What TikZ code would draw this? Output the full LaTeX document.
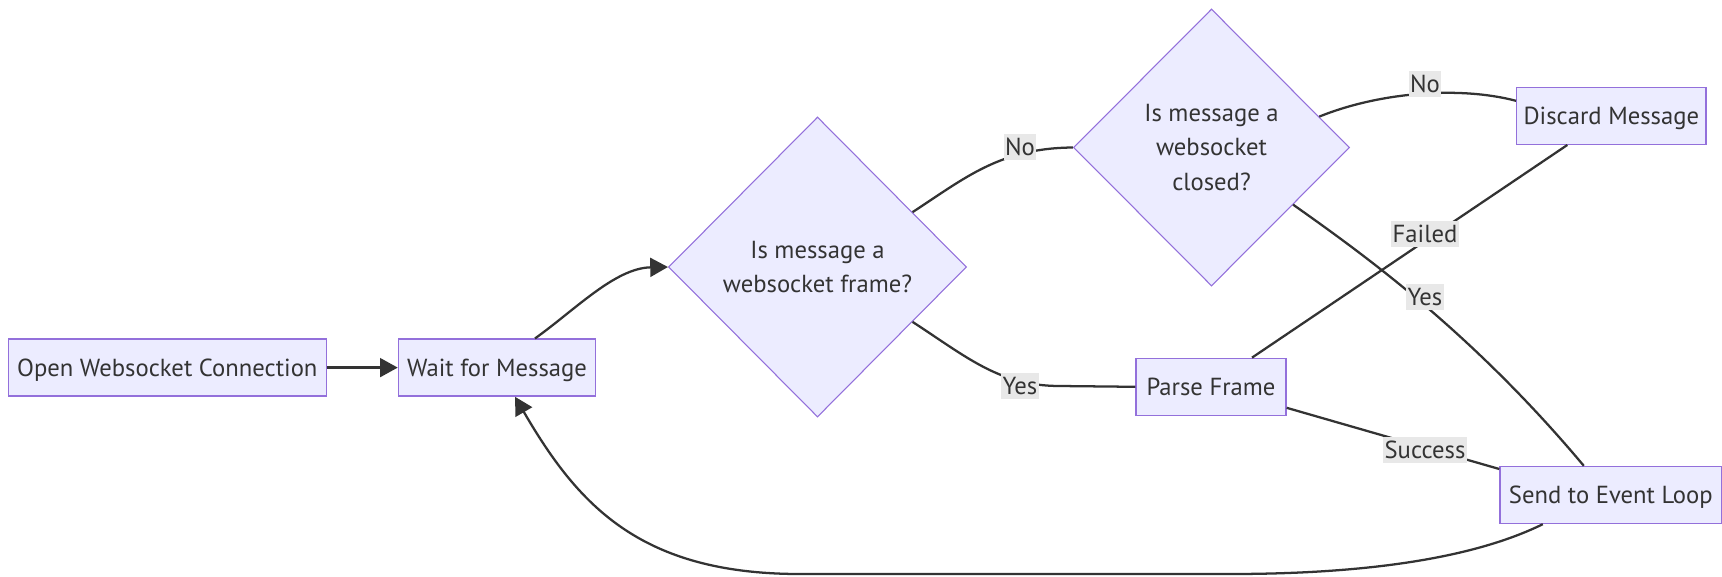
\documentclass[tikz,border=0pt]{standalone}
\usepackage{fontspec}
\setmainfont{PT Sans}
\usetikzlibrary{shapes.geometric,arrows.meta}
\definecolor{nodefill}{HTML}{ECECFF}
\definecolor{nodeline}{HTML}{9370DB}
\definecolor{ink}{HTML}{333333}
\definecolor{lblbg}{HTML}{E8E8E8}
\begin{document}
\begin{tikzpicture}[x=0.75pt,y=-0.75pt,
  font=\fontsize{18.5pt}{26pt}\selectfont, text=ink,
  box/.style={draw=nodeline,fill=nodefill,line width=1pt,inner sep=0pt,minimum height=42.75pt,text height=13pt,text depth=0pt},
  decision/.style={diamond,draw=nodeline,fill=nodefill,line width=0.8pt,inner sep=0pt,align=center},
  link/.style={draw=ink,line width=1.7pt},
  arr/.style={link,-{Triangle[length=13.3pt,width=14.2pt]}},
  lbl/.style={fill=lblbg,inner xsep=1pt,inner ysep=0pt,minimum height=20pt,text height=13pt,text depth=0pt,text=ink}
]
\useasboundingbox (0,0) rectangle (1722,576);
% nodes
\node[box,minimum width=238.5pt] (open) at (167.3,367.6) {Open Websocket Connection};
\node[box,minimum width=147.9pt] (wait) at (497,367.6) {Wait for Message};
\node[decision,minimum width=223.5pt,minimum height=225pt] (d1) at (817.5,267) {Is message a\\websocket frame?};
\node[decision,minimum width=207pt,minimum height=207.75pt] (d2) at (1211.5,147.5) {Is message a\\websocket\\closed?};
\node[box,minimum width=142pt] (discard) at (1611.3,115.8) {Discard Message};
\node[box,minimum width=112.5pt] (parse) at (1211,386.8) {Parse Frame};
\node[box,minimum width=166.3pt] (send) at (1610.8,495) {Send to Event Loop};
% connectors
\draw[arr] (open.east) -- (wait.west);
\draw[arr] ([xshift=28.5pt]wait.north) .. controls (575,310) and (615,268) .. (d1.west);
\draw[link] (d1.30) .. controls (965,178) and (1000,148) .. (d2.west);
\draw[link] (d1.-30) .. controls (968,358) and (1000,386) .. (1060,386) -- (parse.west);
\draw[link] (d2.16) .. controls (1380,92) and (1460,86) .. ([yshift=11.25pt]discard.west);
\draw[link] (d2.-35) .. controls (1360,252) and (1470,330) .. ([xshift=-20.25pt]send.north);
\draw[link] ([xshift=30.75pt]parse.north) -- ([xshift=-33pt]discard.south);
\draw[link] ([yshift=-15.75pt]parse.east) -- ([yshift=19.5pt]send.west);
\draw[arr] ([xshift=-51pt]send.south) .. controls (1480,555) and (1380,574) .. (1230,574) -- (800,574) .. controls (640,574) and (578,505) .. ([xshift=13.5pt]wait.south);
% edge labels
\node[lbl] (l1) at (1020,147) {No};
\node[lbl] (l2) at (1020,386) {Yes};
\node[lbl] (l3) at (1425,84) {No};
\node[lbl] (l4) at (1425,234) {Failed};
\node[lbl] (l5) at (1425,297) {Yes};
\node[lbl] (l6) at (1425,450) {Success};
\end{tikzpicture}
\end{document}
